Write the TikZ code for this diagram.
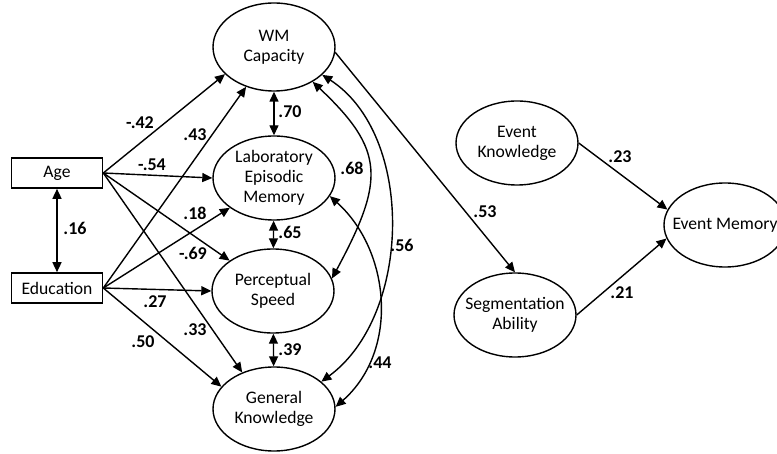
\documentclass[tikz,border=0pt]{standalone}
\usepackage{fontspec}
\setmainfont{Carlito}
\usetikzlibrary{arrows.meta,positioning,shapes.geometric}

\begin{document}
\begin{tikzpicture}[x=0.5pt,y=-0.5pt,>={Triangle[length=5pt,width=4.5pt]},
    latent/.style={ellipse,draw,line width=0.7pt,minimum width=61pt,minimum height=42pt,
      inner sep=-6pt,align=center,font=\fontsize{8.8}{10}\selectfont},
    observed/.style={rectangle,draw,line width=0.8pt,minimum width=45.5pt,minimum height=15pt,
      inner sep=0pt,font=\fontsize{8.8}{10}\selectfont},
    regr/.style={->,line width=0.7pt},
    corr/.style={<->,line width=0.7pt},
    coef/.style={font=\bfseries\fontsize{9}{10}\selectfont,inner sep=0pt}]
\useasboundingbox (0,0) rectangle (777,454);
\clip (0,0) rectangle (777,454);
% observed variables
\node[observed] (age) at (57,173) {Age};
\node[observed] (edu) at (57,288) {Education};
% latent variables
\node[latent,minimum height=44pt] (wm) at (274,47) {WM\\Capacity};
\node[latent] (lem) at (274,178) {Laboratory\\Episodic\\Memory};
\node[latent] (ps) at (273,291) {Perceptual\\Speed};
\node[latent] (gk) at (274,409) {General\\Knowledge};
\node[latent] (ek) at (517,143) {Event\\Knowledge};
\node[latent] (sa) at (515,315) {Segmentation\\Ability};
\node[latent] (em) at (725,225) {Event Memory};
% regressions
\draw[regr] (age.east) -- (wm.209);
\draw[regr] (edu.east) -- (wm.235);
\draw[regr] (age.east) -- (lem.west);
\draw[regr] (edu.east) -- (lem.214);
\draw[regr] (age.east) -- (ps.145);
\draw[regr] (edu.east) -- (ps.west);
\draw[regr] (age.east) -- (gk.131);
\draw[regr] (edu.east) -- (gk.157);
\draw[regr] (wm.-5) -- (sa.north);
\draw[regr] (ek.east) -- (em.165);
\draw[regr] (sa.east) -- (em.193);
% correlations
\draw[corr] (age) -- (edu);
\draw[corr] (wm) -- (lem);
\draw[corr] (lem) -- (ps);
\draw[corr] (ps) -- (gk);
\draw[corr] (wm.-42) .. controls (385,150) and (385,180) .. (ps.12);
\draw[corr] (wm.-30) .. controls (415,135) and (412,315) .. (gk.30);
\draw[corr] (lem.-18) .. controls (390,250) and (400,350) .. (gk.2);
% coefficients
\foreach \px/\py/\v/\n in {140/123/-.42/caw, 195/135/.43/cew, 152/165/-.54/cal,
    195/213/.18/cel, 75/228/.16/cae, 193/253/-.69/cap, 155/302/.27/cep,
    195/330/.33/cag, 143/342/.50/ceg, 290/112/.70/cwl, 290/232/.65/clp,
    290/350/.39/cpg, 352/168/.68/cwp, 402/245/.56/cwg, 380/363/.44/clg,
    485/212/.53/cws, 620/157/.23/ckm, 622/293/.21/csm}
  \node[coef] (\n) at (\px,\py) {\v};
\end{tikzpicture}
\end{document}
